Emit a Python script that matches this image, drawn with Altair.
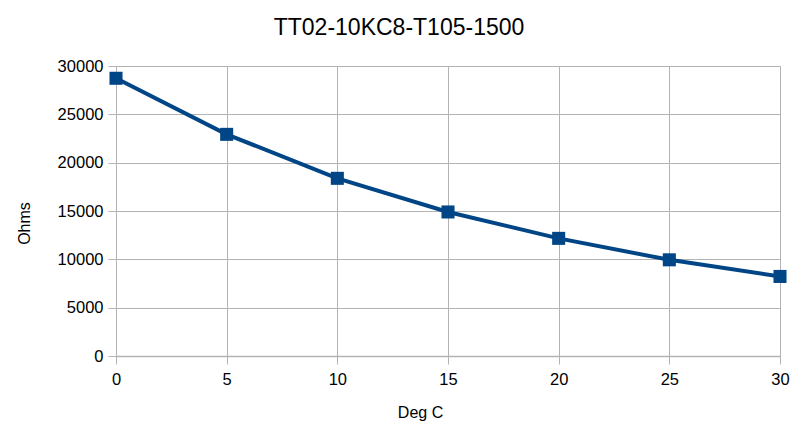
import altair as alt
import pandas as pd

deg_c = [0, 5, 10, 15, 20, 25, 30]
ohms = [28730, 22930, 18380, 14900, 12170, 9950, 8230]
x_ticks = [0, 5, 10, 15, 20, 25, 30]
y_ticks = [0, 5000, 10000, 15000, 20000, 25000, 30000]

df = pd.DataFrame({"deg": deg_c, "ohms": ohms})

FONT = "Liberation Sans"
GRID = "#b3b3b3"
BLUE = "#004586"

x = alt.X("deg:Q", scale=alt.Scale(domain=[0, 30], nice=False, zero=False),
          axis=alt.Axis(title="Deg C", values=x_ticks, grid=True, gridColor=GRID,
                        domain=True, domainColor=GRID, domainWidth=1.5,
                        tickColor=GRID, tickSize=8, labelPadding=7, labelFlush=False,
                        format="d",
                        labelFont=FONT, labelFontSize=16.5, labelColor="black",
                        titleFont=FONT, titleFontSize=16, titleFontWeight="normal",
                        titleColor="black", titleX=304, titleY=48,
                        titleBaseline="top"))
y = alt.Y("ohms:Q", scale=alt.Scale(domain=[0, 30000], nice=False),
          axis=alt.Axis(title="Ohms", values=y_ticks, grid=True, gridColor=GRID,
                        domain=False, tickColor=GRID, tickSize=8, labelPadding=5,
                        labelFlush=False, format="d",
                        labelFont=FONT, labelFontSize=16.5, labelColor="black",
                        titleFont=FONT, titleFontSize=16, titleFontWeight="normal",
                        titleColor="black", titleAngle=-90, titleX=-84, titleY=157,
                        titleAlign="center", titleBaseline="bottom"))

line = alt.Chart(df).mark_line(color=BLUE, strokeWidth=4).encode(x=x, y=y)
pts = alt.Chart(df).mark_point(shape="square", filled=True, color=BLUE, size=170,
                               opacity=1).encode(x=x, y=y)

chart = alt.layer(line, pts).properties(
    width=664, height=290,
    title=alt.TitleParams("TT02-10KC8-T105-1500", font=FONT, fontSize=23,
                          fontWeight="normal", color="black", anchor="middle",
                          dx=-49, dy=31, offset=26, baseline="bottom"),
    autosize=alt.AutoSizeParams(type="none"),
    padding={"left": 116, "top": 66, "right": 20, "bottom": 75},
).configure_view(stroke=None).configure(background="white")

chart.save("out.html", embed_options={"renderer": "svg", "actions": False})
